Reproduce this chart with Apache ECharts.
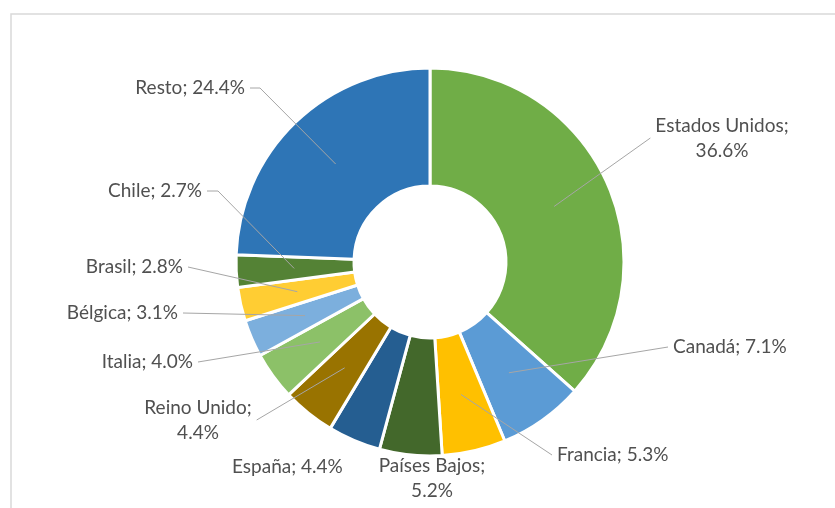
<!DOCTYPE html>
<html>
<head>
<meta charset="utf-8">
<script src="https://cdn.jsdelivr.net/npm/echarts@6/dist/echarts.min.js"></script>
<style>
html,body{margin:0;padding:0;background:#fff}
#c{width:835px;height:508px}
</style>
</head>
<body>
<div id="c"></div>
<script>
// ---- data ----
const categories = ['Estados Unidos', 'Canadá', 'Francia', 'Países Bajos', 'España', 'Reino Unido', 'Italia', 'Bélgica', 'Brasil', 'Chile', 'Resto'];
const shares = [36.6, 7.1, 5.3, 5.2, 4.4, 4.4, 4.0, 3.1, 2.8, 2.7, 24.4];

// ---- style / layout (kept apart from the data) ----
const sliceColors = ['#70AD47', '#5B9BD5', '#FFC000', '#43682B', '#255E91', '#997300', '#8CC168', '#7CAFDD', '#FFCD33', '#548235', '#2E75B6'];
const wrappedNames = ['Estados Unidos', 'Países Bajos', 'Reino Unido'];
const noLeaderNames = ['Países Bajos', 'España'];
// label anchor: [x, y (middle of text block), text alignment]
const labelAnchors = [
  [722, 138, 'center'], [673, 347, 'left'], [557, 455, 'left'], [432, 478, 'center'],
  [232, 467, 'left'], [198, 420, 'center'], [193, 362, 'right'], [178, 313, 'right'],
  [183, 267, 'right'], [202, 191, 'right'], [245, 88, 'right']
];
const leaderKnee = [0, 0, 0, 0, 0, 0, 0, 0, 0, 11, 10];
const CENTER = [430, 262];
const R_IN = 76, R_OUT = 194, R_LEADER = 136;

const total = shares.reduce((a, b) => a + b, 0);
const cumBefore = shares.map((v, i) => shares.slice(0, i).reduce((a, b) => a + b, 0));
function leaderStart(i) {
  const mid = (cumBefore[i] + shares[i] / 2) / total * 2 * Math.PI;
  return [CENTER[0] + R_LEADER * Math.sin(mid), CENTER[1] - R_LEADER * Math.cos(mid)];
}

const labelFont = {color: '#505050', fontFamily: 'Lato', fontSize: 19, lineHeight: 25};

const chart = echarts.init(document.getElementById('c'), null, {renderer: 'canvas'});
chart.setOption({
  animation: false,
  backgroundColor: '#ffffff',
  graphic: [{
    type: 'rect', silent: true, z: -1,
    shape: {x: 11, y: 14, width: 900, height: 600},
    style: {fill: null, stroke: '#d9d9d9', lineWidth: 1.5}
  }],
  series: [{
    // visible ring
    type: 'pie',
    z: 2,
    center: CENTER,
    radius: [R_IN, R_OUT],
    startAngle: 90,
    clockwise: true,
    avoidLabelOverlap: false,
    emphasis: {disabled: true},
    itemStyle: {borderColor: '#ffffff', borderWidth: 3},
    label: {show: false},
    labelLine: {show: false},
    data: categories.map((n, i) => ({name: n, value: shares[i], itemStyle: {color: sliceColors[i]}}))
  }, {
    // transparent overlay carrying labels and leader lines above the ring
    type: 'pie',
    z: 5,
    silent: true,
    center: CENTER,
    radius: [R_IN, R_OUT],
    startAngle: 90,
    clockwise: true,
    avoidLabelOverlap: false,
    emphasis: {disabled: true},
    itemStyle: {color: 'rgba(0,0,0,0)', borderWidth: 0},
    label: Object.assign({
      show: true,
      position: 'outside',
      formatter: function (p) {
        const name = categories[p.dataIndex];
        const val = shares[p.dataIndex].toFixed(1) + '%';
        return name + ';' + (wrappedNames.indexOf(name) >= 0 ? '\n' : ' ') + val;
      }
    }, labelFont),
    labelLine: {show: true, length: 8, length2: 8, lineStyle: {color: '#a6a6a6', width: 1}},
    labelLayout: function (params) {
      const i = params.dataIndex;
      const a = labelAnchors[i];
      const x = a[0], y = a[1], align = a[2];
      const w = params.labelRect.width;
      const left = align === 'left' ? x : (align === 'right' ? x - w : x - w / 2);
      const right = left + w;
      const out = {x: x, y: y, align: align, verticalAlign: 'middle'};
      if (noLeaderNames.indexOf(categories[i]) >= 0) return out;
      const s = leaderStart(i);
      const knee = leaderKnee[i];
      let pts;
      if (s[0] > right) {
        const ex = right + 5;
        pts = knee ? [s, [ex + knee, y], [ex, y]] : [s, [ex, y]];
      } else {
        const ex = left - 5;
        pts = knee ? [s, [ex - knee, y], [ex, y]] : [s, [ex, y]];
      }
      out.labelLinePoints = pts;
      return out;
    },
    data: categories.map((n, i) => ({
      name: n,
      value: shares[i],
      labelLine: {show: noLeaderNames.indexOf(n) < 0}
    }))
  }]
});
</script>
</body>
</html>
